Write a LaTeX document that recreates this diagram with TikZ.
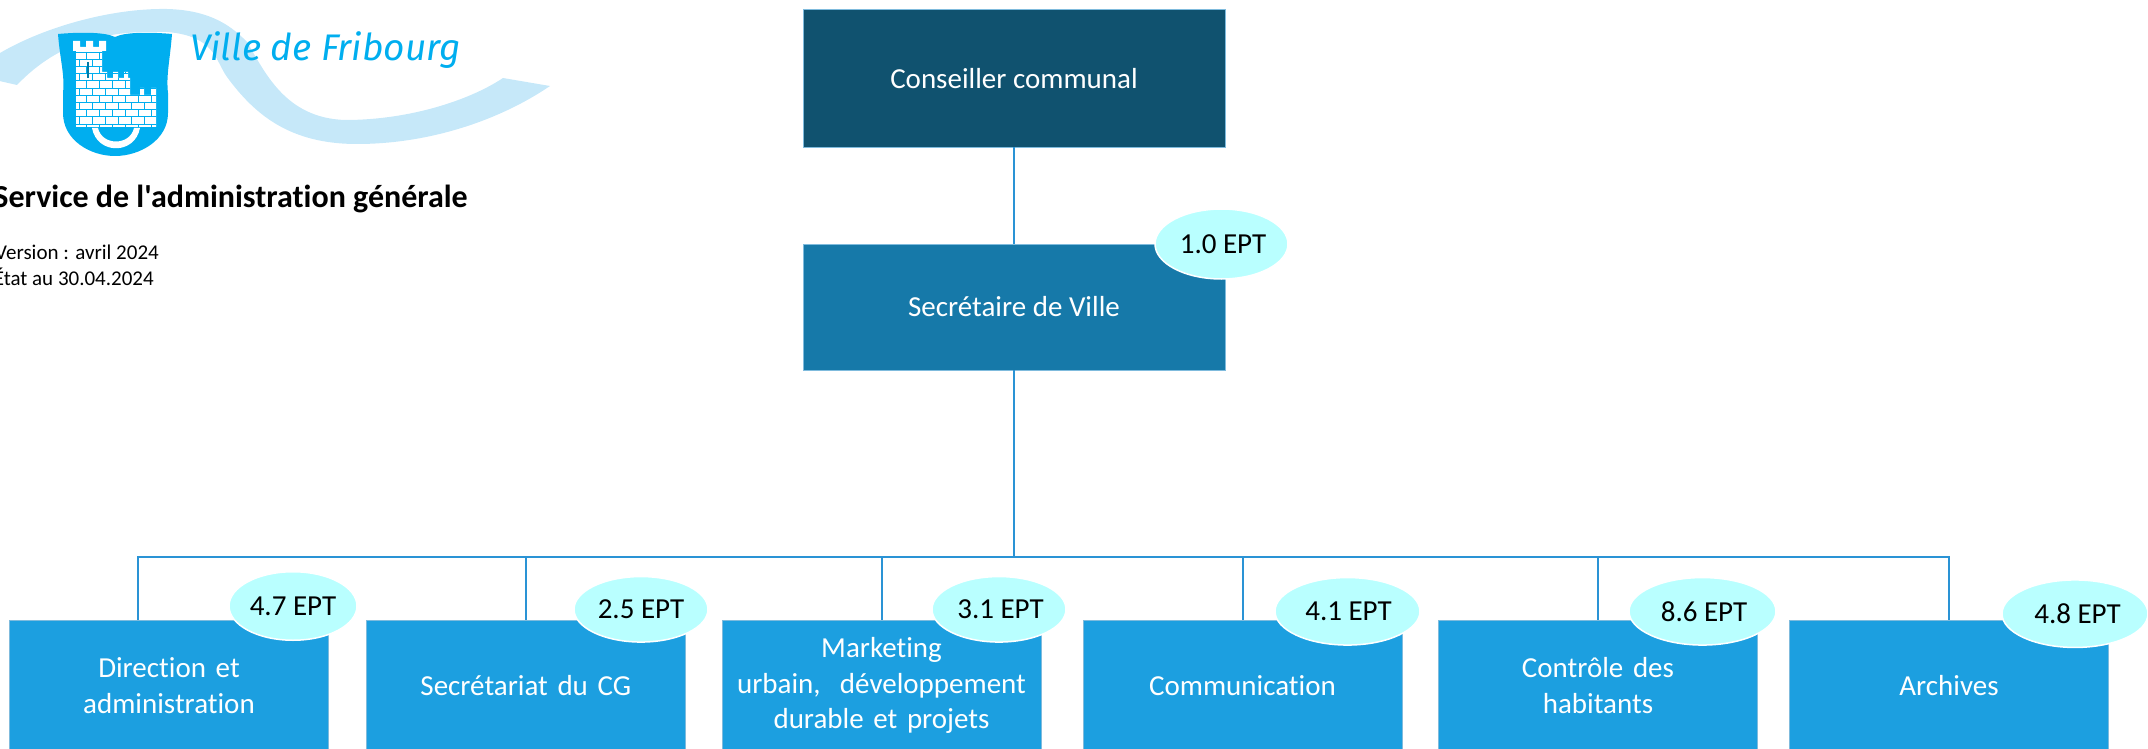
\documentclass[tikz,border=0pt]{standalone}
\usepackage{fontspec}
\usetikzlibrary{shapes.geometric}
\newfontfamily\carl[Ligatures=NoCommon]{Carlito}
\newfontfamily\logofont{Fira Sans}
\definecolor{darkbox}{HTML}{10526F}
\definecolor{midbox}{HTML}{1679A9}
\definecolor{lightbox}{HTML}{1C9FE0}
\definecolor{boxrim}{HTML}{7FBBDD}
\definecolor{linkblue}{HTML}{2A93D5}
\definecolor{pill}{HTML}{B9FFFF}
\definecolor{swoosh}{HTML}{C6E8F9}
\definecolor{logoblue}{HTML}{00AEEF}
\tikzset{
  x=1pt,y=-1pt,
  unitbox/.style={rectangle,draw=boxrim,line width=0.8pt,text=white,align=center,inner sep=0pt,
     font=\carl\fontsize{29}{35.5}\selectfont},
  lowbox/.style={unitbox,fill=lightbox,minimum width=319pt,minimum height=131pt,text width=310pt},
  topbox/.style={unitbox,minimum width=422pt},
  ept/.style={ellipse,fill=pill,draw=white,line width=1.5pt,inner sep=0pt,text=black,
     font=\carl\fontsize{29}{35}\selectfont},
  link/.style={draw=linkblue,line width=2pt},
  mortar/.style={draw=logoblue,line width=0.9pt}
}
\begin{document}
\begin{tikzpicture}
\useasboundingbox (0,0) rectangle (2148,749);
\clip (0,0) rectangle (2148,749);
% logo band
\fill[swoosh] (-5,56) .. controls (40,28) and (110,8) .. (167,9)
  .. controls (205,10) and (228,22) .. (247,42)
  .. controls (265,72) and (285,118) .. (345,120)
  .. controls (410,120) and (470,100) .. (503,78) -- (550,86)
  .. controls (500,120) and (430,144) .. (357,144)
  .. controls (290,144) and (255,115) .. (227,77)
  .. controls (215,60) and (215,36) .. (167,32)
  .. controls (110,30) and (60,40) .. (17,85) -- (-5,80) -- cycle;
% shield
\fill[logoblue] (58,34) .. controls (80,32) and (105,32) .. (115,37)
  .. controls (125,32) and (150,32) .. (172,34)
  .. controls (170,60) and (166,75) .. (168,93) -- (168,113)
  .. controls (168,140) and (140,156) .. (115,156)
  .. controls (90,156) and (63,140) .. (63,113) -- (63,93)
  .. controls (65,75) and (60,60) .. (58,34) -- cycle;
% tower and walls
\begin{scope}
\clip (76,125) -- (76,51) -- (73,51) -- (73,41) -- (80,41) -- (80,47) -- (86,47) -- (86,41) -- (93,41) -- (93,47)
  -- (99,47) -- (99,41) -- (106,41) -- (106,51) -- (102,51) -- (102,72) -- (107,72) -- (107,78) -- (113,78) -- (113,72)
  -- (118,72) -- (118,78) -- (124,78) -- (124,72) -- (128,72) -- (128,78) -- (130,78) -- (130,95) -- (140,95) -- (140,88)
  -- (144,88) -- (144,95) -- (151,95) -- (151,88) -- (156,88) -- (156,127) -- (76,127) -- cycle;
\fill[white] (70,38) rectangle (158,128);
\foreach \r in {0,...,10} {
  \draw[mortar] (70,{52+7.2*\r}) -- (158,{52+7.2*\r});
  \pgfmathsetmacro{\off}{mod(\r,2)*6.5}
  \foreach \c in {0,...,6} {
    \draw[mortar] ({73+\off+13*\c},{52+7.2*\r}) -- ({73+\off+13*\c},{59.2+7.2*\r});
  }
}
\draw[logoblue!70!black,line width=1.6pt] (88,62) -- (88,78);
\end{scope}
\fill[white] (92,128) .. controls (97,155) and (135,155) .. (140,128) -- (134,128)
  .. controls (130,146) and (102,146) .. (98,128) -- cycle;
\node[anchor=base west,inner sep=0pt,text=logoblue,font=\logofont\itshape\fontsize{37}{40}\selectfont] (logotext) at (190,61) {Ville de Fribourg};
% heading
\node[anchor=base east,inner sep=0pt,font=\carl\bfseries\fontsize{32}{36}\selectfont] (title) at (468,207.7) {Service de l'administration générale};
\node[anchor=base east,inner sep=0pt,font=\carl\fontsize{21}{24}\selectfont] (version) at (159,259) {Version : avril 2024};
\node[anchor=base east,inner sep=0pt,font=\carl\fontsize{21}{24}\selectfont] (etat) at (154,285) {État au 30.04.2024};
% boxes
\node[topbox,fill=darkbox,minimum height=137.5pt] (cc) at (1014,78.3) {Conseiller communal};
\node[topbox,fill=midbox,minimum height=126pt] (sv) at (1014,307) {Secrétaire de Ville};
\node[lowbox] (b1) at (169,685.5) {Direction et\\administration};
\node[lowbox] (b2) at (525.8,685.5) {Secrétariat du CG};
\node[lowbox] (b3) at (881.5,685.5) {Marketing\\urbain,\ \ développement\\durable et projets};
\node[lowbox] (b4) at (1242.5,685.5) {Communication};
\node[lowbox] (b5) at (1598,685.5) {Contrôle des\\habitants};
\node[lowbox] (b6) at (1949,685.5) {Archives};
% connectors
\coordinate (bus) at (1014,556.7);
\coordinate (b1top) at (138,620);
\draw[link] (cc) -- (sv);
\draw[link] (sv) -- (bus);
\draw[link] (b1top) |- (bus);
\draw[link] (b6.north) |- (bus);
\draw[link] (b2.north) |- (bus);
\draw[link] (b3.north) |- (bus);
\draw[link] (b4.north) |- (bus);
\draw[link] (b5.north) |- (bus);
% staff pills
\node[ept,minimum width=133pt,minimum height=70pt] (e0) at (1221.5,244) {\kern3pt 1.0 EPT};
\node[ept,minimum width=128pt,minimum height=68.5pt] (e1) at (293,606) {4.7 EPT};
\node[ept,minimum width=134pt,minimum height=65.5pt] (e2) at (641,609.3) {2.5 EPT};
\node[ept,minimum width=134pt,minimum height=65.5pt] (e3) at (999,609.3) {\kern3pt 3.1 EPT};
\node[ept,minimum width=145pt,minimum height=67.5pt] (e4) at (1347.5,611.3) {\kern2pt 4.1 EPT};
\node[ept,minimum width=147pt,minimum height=67.5pt] (e5) at (1702.5,611.3) {\kern3pt 8.6 EPT};
\node[ept,minimum width=146pt,minimum height=67.5pt] (e6) at (2075,613.7) {\kern5pt 4.8 EPT};
\end{tikzpicture}
\end{document}
